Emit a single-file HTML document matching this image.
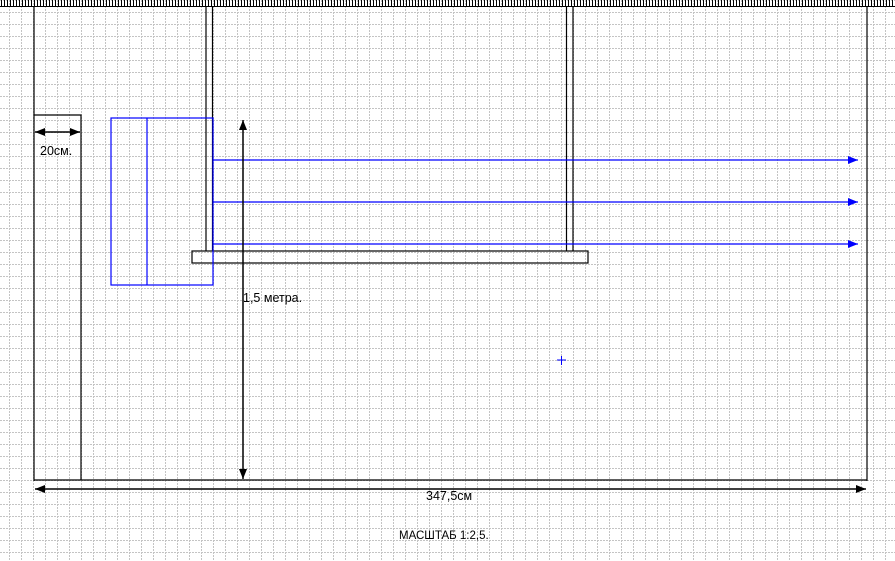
<!DOCTYPE html><html><head><meta charset="utf-8"><style>body{margin:0;background:#fff}svg{display:block}</style></head><body>
<svg width="895" height="561" xmlns="http://www.w3.org/2000/svg" font-family="Liberation Sans, sans-serif">
<defs>
<pattern id="g" width="12" height="12" patternUnits="userSpaceOnUse" x="9" y="0">
<path d="M0.5 0V12M0 0.5H12" stroke="#c4c4c4" stroke-width="1" stroke-dasharray="2,1" fill="none"/>
</pattern>
<pattern id="t" width="3" height="8" patternUnits="userSpaceOnUse" x="1" y="0">
<path d="M0.5 0V6" stroke="#000"/>
</pattern>
<marker id="a" markerWidth="10" markerHeight="8" refX="10" refY="4" orient="auto-start-reverse" markerUnits="userSpaceOnUse"><path d="M0 0L10 4L0 8z" fill="#000"/></marker>
<marker id="b" markerWidth="10" markerHeight="8" refX="10" refY="4" orient="auto" markerUnits="userSpaceOnUse"><path d="M0 0L10 4L0 8z" fill="#00f"/></marker>
</defs>
<rect width="895" height="561" fill="#fff"/>
<rect width="895" height="561" fill="url(#g)"/>
<rect x="0" y="0" width="895" height="6" fill="url(#t)"/>
<line x1="0" y1="6.5" x2="895" y2="6.5" stroke="#000"/>
<g stroke="#000" fill="none" stroke-width="1.2">
<line x1="34" y1="6" x2="34" y2="481"/>
<line x1="867" y1="6" x2="867" y2="481"/>
<line x1="34" y1="480" x2="867" y2="480"/>
<path d="M34 115H81V480"/>
<line x1="206" y1="6" x2="206" y2="251"/>
<line x1="212.5" y1="6" x2="212.5" y2="251"/>
<line x1="566.5" y1="6" x2="566.5" y2="251"/>
<line x1="573" y1="6" x2="573" y2="251"/>
<rect x="192" y="251" width="396" height="12"/>
</g>
<g stroke="#00f" fill="none" stroke-width="1.2">
<rect x="111" y="118" width="102" height="167"/>
<line x1="147" y1="118" x2="147" y2="285"/>
<line x1="213" y1="160" x2="858" y2="160" marker-end="url(#b)"/>
<line x1="213" y1="202" x2="858" y2="202" marker-end="url(#b)"/>
<line x1="213" y1="244" x2="858" y2="244" marker-end="url(#b)"/>
<path d="M557 360H566M561.5 356V365" stroke-width="1"/>
</g>
<g stroke="#000" stroke-width="1.5">
<line x1="35" y1="132" x2="80" y2="132" marker-start="url(#a)" marker-end="url(#a)"/>
<line x1="243" y1="120" x2="243" y2="479" marker-start="url(#a)" marker-end="url(#a)"/>
<line x1="35" y1="489" x2="866" y2="489" marker-start="url(#a)" marker-end="url(#a)"/>
</g>
<g font-size="12.5" fill="#000">
<text x="40" y="155">20см.</text>
<text x="243" y="302">1,5 метра.</text>
<text x="426" y="500">347,5см</text>
<text x="399" y="539" font-size="11.5">МАСШТАБ  1:2,5.</text>
</g>
</svg></body></html>
